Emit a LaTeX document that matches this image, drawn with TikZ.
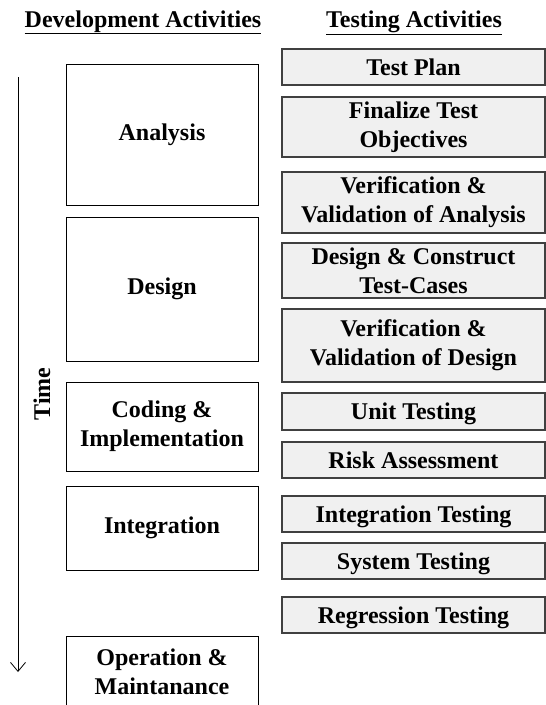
\documentclass[tikz,border=0pt]{standalone}
\usepackage{fontspec}
\setmainfont{Liberation Serif}
\usetikzlibrary{arrows.meta}

\tikzset{
  lbl/.style={font=\bfseries\fontsize{24}{29}\selectfont, align=center},
  devbox/.style={lbl, draw=black, line width=0.9pt, fill=white,
    minimum width=192pt, inner sep=0pt},
  testbox/.style={lbl, draw=black!75, line width=1.2pt, fill=black!6,
    minimum width=263pt, inner sep=0pt},
  oneline/.style={text depth=0pt},
  header/.style={lbl, inner sep=0pt, anchor=base},
  timeline/.style={line width=0.8pt, -{Straight Barb[length=9pt,width=15pt,line width=0.8pt]}}
}

\begin{document}
\begin{tikzpicture}[x=1pt, y=-1pt]
  \useasboundingbox (0,0) rectangle (546,705);
  \clip (0,0) rectangle (546,705);

  % column headings
  \node[header] (hdev) at (143,27) {\underline{Development Activities}};
  \node[header] (htest) at (414,27) {\underline{Testing Activities}};

  % time axis
  \coordinate (tstart) at (18,77);
  \coordinate (tend) at (18,672);
  \draw[timeline] (tstart) -- (tend);
  \node[lbl, rotate=90] (time) at (42,394) {Time};

  % development phases
  \node[devbox, minimum height=141pt] (analysis) at (162,134.5) {Analysis};
  \node[devbox, minimum height=144pt] (design) at (162,289) {Design};
  \node[devbox, minimum height=89pt] (coding) at (162,426.5) {Coding \&\\Implementation};
  \node[devbox, minimum height=84pt] (integ) at (162,528) {Integration};
  \node[devbox, minimum height=72pt] (operation) at (162,672) {Operation \&\\Maintanance};

  % testing activities
  \node[testbox, oneline, minimum height=36pt] (plan) at (413.5,67) {Test Plan};
  \node[testbox, minimum height=60pt] (objectives) at (413.5,127) {Finalize Test\\Objectives};
  \node[testbox, minimum height=61pt] (vvanalysis) at (413.5,202.5) {Verification \&\\Validation of Analysis};
  \node[testbox, minimum height=55pt] (cases) at (413.5,270.5) {Design \& Construct\\Test-Cases};
  \node[testbox, minimum height=73pt] (vvdesign) at (413.5,345.5) {Verification \&\\Validation of Design};
  \node[testbox, oneline, minimum height=37pt] (unit) at (413.5,411.5) {Unit Testing};
  \node[testbox, oneline, minimum height=36pt] (risk) at (413.5,460) {Risk Assessment};
  \node[testbox, oneline, minimum height=36pt] (integtest) at (413.5,514) {Integration Testing};
  \node[testbox, oneline, minimum height=36pt] (system) at (413.5,561) {System Testing};
  \node[testbox, oneline, minimum height=36pt] (regression) at (413.5,615) {Regression Testing};
\end{tikzpicture}
\end{document}
